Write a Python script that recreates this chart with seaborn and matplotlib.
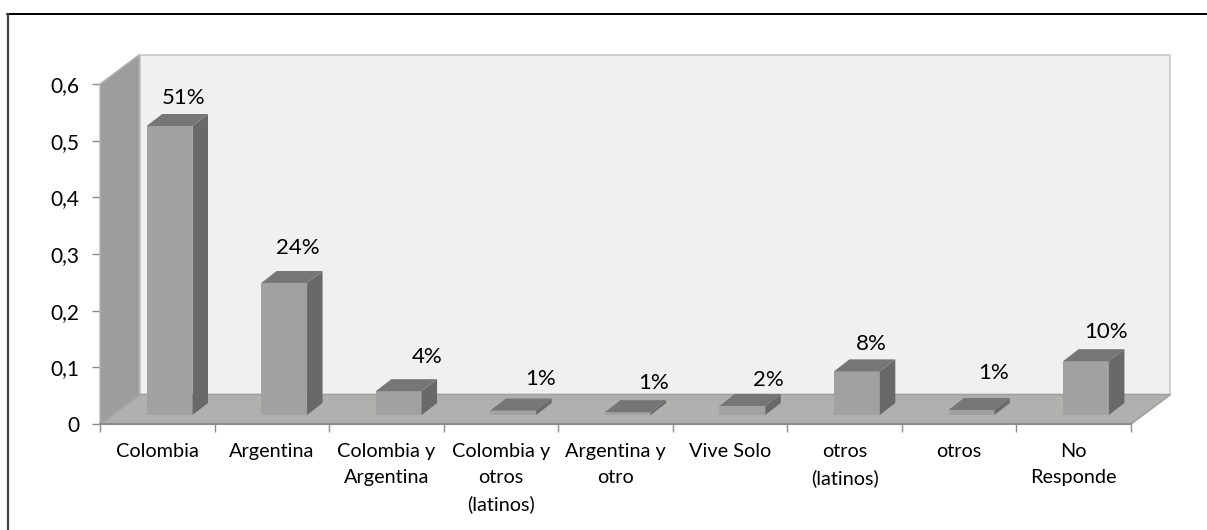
import matplotlib
matplotlib.use("Agg")
import matplotlib.pyplot as plt
from matplotlib.patches import Polygon
from matplotlib.lines import Line2D
import seaborn as sns
import pandas as pd

categories = ["Colombia", "Argentina", "Colombia y\nArgentina", "Colombia y\notros\n(latinos)",
              "Argentina y\notro", "Vive Solo", "otros\n(latinos)", "otros", "No\nResponde"]
values = [0.51, 0.233, 0.042, 0.008, 0.005, 0.016, 0.077, 0.009, 0.095]
labels = ["51%", "24%", "4%", "1%", "1%", "2%", "8%", "1%", "10%"]
label_dx_px = [14, 14, 28, 27, 26, 26, 14, 22, 20]
label_dy_px = [28, 35, 34, 31, 29, 26, 27, 37, 29]
y_ticks = [0, 0.1, 0.2, 0.3, 0.4, 0.5, 0.6]
y_ticklabels = ["0", "0,1", "0,2", "0,3", "0,4", "0,5", "0,6"]

W, H = 1207, 530
sns.set_theme(style="white")
plt.rcParams["font.family"] = ["Lato", "DejaVu Sans"]

fig = plt.figure(figsize=(W / 100, H / 100), dpi=100, facecolor="white")
L, R, T, B = 100, 1131, 84, 424
ax = fig.add_axes([L / W, 1 - B / H, (R - L) / W, (B - T) / H])

df = pd.DataFrame({"cat": [f"c{i}" for i in range(len(values))], "v": values})
FLOOR = 9 / 566.7
sns.barplot(data=df, x="cat", y="v", ax=ax, width=0.40, color="#a1a1a1", saturation=1,
            bottom=FLOOR, zorder=5, linewidth=0)
ax.set_xlim(-0.5, 8.5)
ax.set_ylim(0, 0.6)
ax.set_xlabel("")
ax.set_ylabel("")

ux = (R - L) / 9      # px per category
uy = (B - T) / 0.6    # px per unit
wall_dx, wall_dy = 39.5 / ux, 29.5 / uy
bar_dx, bar_dy = 15.5 / ux, 12 / uy
shift = 12.3 / ux

# walls and floor
wall_top = 0.6
ax.add_patch(Polygon([(-0.5 + wall_dx, wall_dy), (8.5 + wall_dx, wall_dy),
                      (8.5 + wall_dx, wall_top + wall_dy), (-0.5 + wall_dx, wall_top + wall_dy)],
                     closed=True, fc="#f0f0f0", ec="#cccccc", lw=1.3, clip_on=False, zorder=1))
ax.add_patch(Polygon([(-0.5, 0), (-0.5, wall_top), (-0.5 + wall_dx, wall_top + wall_dy), (-0.5 + wall_dx, wall_dy)],
                     closed=True, fc="#9d9d9d", ec="#b5b5b5", lw=1, clip_on=False, zorder=2))
ax.add_patch(Polygon([(-0.5, 0), (-0.5 + wall_dx, wall_dy), (8.5 + wall_dx, wall_dy), (8.5, 0)],
                     closed=True, fc="#b0b0ae", ec="#a0a09e", lw=1.2, clip_on=False, zorder=2))

# 3D faces built from the seaborn bars
for i, p in enumerate(ax.patches[:len(values)]):
    p.set_x(p.get_x() + shift)
    p.set_clip_on(False)
    x0, x1 = p.get_x(), p.get_x() + p.get_width()
    y0, y1 = p.get_y(), p.get_y() + p.get_height()
    ax.add_patch(Polygon([(x1, y0), (x1 + bar_dx, y0 + bar_dy), (x1 + bar_dx, y1 + bar_dy), (x1, y1)],
                         closed=True, fc="#696969", ec="none", clip_on=False, zorder=6))
    ax.add_patch(Polygon([(x0, y1), (x1, y1), (x1 + bar_dx, y1 + bar_dy), (x0 + bar_dx, y1 + bar_dy)],
                         closed=True, fc="#767676", ec="none", clip_on=False, zorder=6))
    xc = (x0 + x1) / 2
    ax.text(xc + label_dx_px[i] / ux, y1 + label_dy_px[i] / uy, labels[i], ha="center", va="center",
            fontsize=16, color="black", zorder=8, clip_on=False)

# axes
for s in ["top", "right", "left"]:
    ax.spines[s].set_visible(False)
ax.spines["bottom"].set_color("#8c8c8c")
ax.spines["bottom"].set_linewidth(1.5)
ax.spines["bottom"].set_zorder(3)
ax.set_yticks(y_ticks)
ax.set_yticklabels(y_ticklabels, fontsize=15, color="black")
ax.set_xticks([i - 0.5 for i in range(10)])
ax.set_xticklabels([])
ax.tick_params(axis="both", which="major", length=6, width=1, color="#8c8c8c", direction="out",
               bottom=True, left=True, pad=4)
ax.tick_params(axis="y", pad=9)
for i, c in enumerate(categories):
    ax.annotate(c, (i, 0), xycoords=("data", "axes fraction"), xytext=(0, -14), textcoords="offset points",
                ha="center", va="top", fontsize=14.3, color="black", linespacing=1.62, annotation_clip=False)

# outer frame: top and left edges only
fig.add_artist(Line2D([7 / W, 1], [1 - 14 / H, 1 - 14 / H], transform=fig.transFigure, color="black", lw=1.4))
fig.add_artist(Line2D([8 / W, 8 / W], [0, 1 - 14 / H], transform=fig.transFigure, color="#444444", lw=1.6))
fig.savefig("out.png", dpi=100, facecolor="white")
